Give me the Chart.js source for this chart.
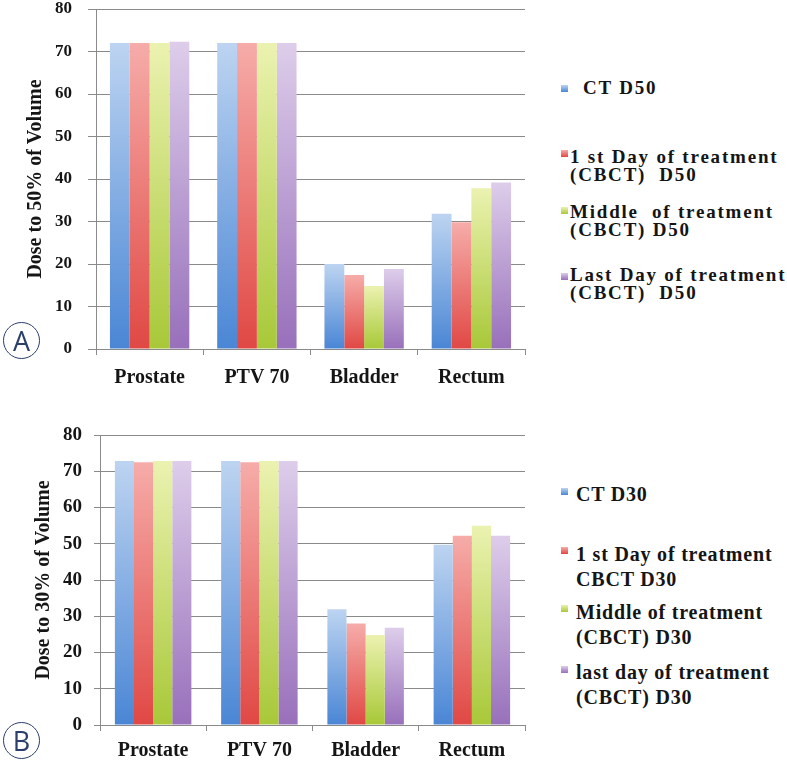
<!DOCTYPE html>
<html><head><meta charset="utf-8">
<script src="https://cdn.jsdelivr.net/npm/chart.js@4/dist/chart.umd.min.js"></script>
<style>
body{margin:0;background:#fff;width:787px;height:762px;position:relative;overflow:hidden;font-family:"Liberation Serif",serif;}
canvas{position:absolute;left:0;}
#cA{top:-18px}
#cB{top:390px}
.leg{position:absolute;left:561px;font-weight:bold;color:#151515;white-space:pre;font-family:"Liberation Serif",serif}
.leg .sw{position:absolute;left:0;width:7px;height:7px}
.leg .tx{position:absolute;left:9px;top:0}
.circ{position:absolute;left:3px;width:35px;height:35px;border:1.6px solid #2c3e6c;border-radius:50%;color:#2c3e6c;font-family:"Open Sans",sans-serif;font-size:27px;line-height:35px;text-align:center;}
</style></head><body>
<canvas id="cA" width="540" height="408"></canvas>
<canvas id="cB" width="540" height="372"></canvas>
<div id="legA"></div><div id="legB"></div>
<div class="circ" style="top:322px">A</div>
<div class="circ" style="top:722px">B</div>
<script>
const categories = ['Prostate', 'PTV 70', 'Bladder', 'Rectum'];
const yTicks = [0, 10, 20, 30, 40, 50, 60, 70, 80];

// Panel A: Dose to 50% of volume
const titleA = 'Dose to 50% of Volume';
const namesA = [['CT D50'], ['1 st Day of treatment', '(CBCT)  D50'], ['Middle  of treatment', '(CBCT) D50'], ['Last Day of treatment', '(CBCT)  D50']];
const ctD50 = [72, 72, 20, 31.8];
const firstDayD50 = [72, 72, 17.4, 29.8];
const middleD50 = [72, 72, 14.8, 37.8];
const lastDayD50 = [72.3, 72, 18.8, 39.2];

// Panel B: Dose to 30% of volume
const titleB = 'Dose to 30% of Volume';
const namesB = [['CT D30'], ['1 st Day of treatment', 'CBCT D30'], ['Middle of treatment', '(CBCT) D30'], ['last day of treatment', '(CBCT) D30']];
const ctD30 = [72.8, 72.8, 31.9, 49.7];
const firstDayD30 = [72.5, 72.5, 28.0, 52.2];
const middleD30 = [72.8, 72.8, 24.8, 55.0];
const lastDayD30 = [72.8, 72.8, 26.8, 52.2];

const palette = [
  ['#bdd4f1', '#4a86d5'],
  ['#f6aca9', '#e04844'],
  ['#ebf2b0', '#a8c838'],
  ['#ddcdea', '#9870bb']
];

function grad(top, bottom) {
  return function (c) {
    const chart = c.chart;
    const ys = chart.scales && chart.scales.y;
    if (!ys || c.type !== 'data') return bottom;
    const yt = ys.getPixelForValue(c.raw), yb = ys.getPixelForValue(0);
    if (!isFinite(yt) || !isFinite(yb) || yt === yb) return bottom;
    const g = chart.ctx.createLinearGradient(0, yt, 0, yb);
    g.addColorStop(0, top); g.addColorStop(1, bottom);
    return g;
  };
}

function makeDatasets(names, series) {
  return series.map((d, i) => ({ label: names[i].join(' '), data: d, backgroundColor: grad(palette[i][0], palette[i][1]), borderWidth: 0 }));
}

const F = 'Liberation Serif';
function makeChart(id, datasets, cfg) {
  return new Chart(document.getElementById(id), {
    type: 'bar',
    data: { labels: categories, datasets },
    options: {
      responsive: false, animation: false, devicePixelRatio: 1,
      layout: { padding: { top: cfg.top, left: 0, right: 15, bottom: 0 } },
      plugins: { legend: { display: false }, tooltip: { enabled: false } },
      datasets: { bar: { categoryPercentage: cfg.cat, barPercentage: 1 } },
      scales: {
        x: {
          grid: { offset: true, drawOnChartArea: false, tickLength: 6, color: '#8a8a8a' },
          border: { color: '#8a8a8a' },
          ticks: { font: { family: F, weight: 'bold', size: cfg.xfs }, color: '#151515', padding: cfg.xpad, maxRotation: 0 },
          afterFit(s) { s.height = cfg.xh; }
        },
        y: {
          min: 0, max: 80,
          afterBuildTicks(s) { s.ticks = yTicks.map(v => ({ value: v })); },
          grid: { color: '#8a8a8a', tickLength: cfg.tl },
          border: { color: '#8a8a8a' },
          ticks: { font: { family: F, weight: 'bold', size: cfg.yfs }, color: '#151515', padding: cfg.ypad },
          title: { display: true, text: cfg.title, font: { family: F, weight: 'bold', size: cfg.tfs }, color: '#151515', padding: { top: cfg.tpad, bottom: 0 } },
          afterFit(s) { s.width = cfg.yw; }
        }
      }
    }
  });
}

makeChart('cA', makeDatasets(namesA, [ctD50, firstDayD50, middleD50, lastDayD50]),
  { top: 27, cat: 0.74, xfs: 20, xpad: 11, xh: 41, tl: 8, yfs: 17, ypad: 16, title: titleA, tfs: 20, tpad: 24, yw: 96 });
makeChart('cB', makeDatasets(namesB, [ctD30, firstDayD30, middleD30, lastDayD30]),
  { top: 45, cat: 0.72, xfs: 20, xpad: 8, xh: 37, tl: 6, yfs: 19, ypad: 12, title: titleB, tfs: 20, tpad: 32, yw: 100 });

function makeLegend(hostId, names, tops, swTops, cfg) {
  const host = document.getElementById(hostId);
  names.forEach((lines, i) => {
    const d = document.createElement('div');
    d.className = 'leg';
    d.style.top = tops[i] + 'px';
    d.style.fontSize = cfg.fs + 'px';
    d.style.lineHeight = cfg.lh + 'px';
    d.style.letterSpacing = cfg.ls + 'px';
    const sw = document.createElement('div');
    sw.className = 'sw';
    sw.style.top = swTops[i] + 'px';
    sw.style.background = 'linear-gradient(' + palette[i][0] + ',' + palette[i][1] + ')';
    const tx = document.createElement('div');
    tx.className = 'tx';
    tx.style.left = (i === 0 ? cfg.firstLeft : cfg.left) + 'px';
    tx.textContent = lines.join('\n');
    d.appendChild(sw); d.appendChild(tx);
    host.appendChild(d);
  });
}
makeLegend('legA', namesA, [79, 148, 203, 266], [6, 2, 4, 7], { fs: 19, lh: 18, ls: 1.8, firstLeft: 22, left: 9 });
makeLegend('legB', namesB, [482, 542, 600, 660], [6, 5, 5, 6], { fs: 20, lh: 25, ls: 0.8, firstLeft: 15, left: 15 });
</script>
</body></html>
